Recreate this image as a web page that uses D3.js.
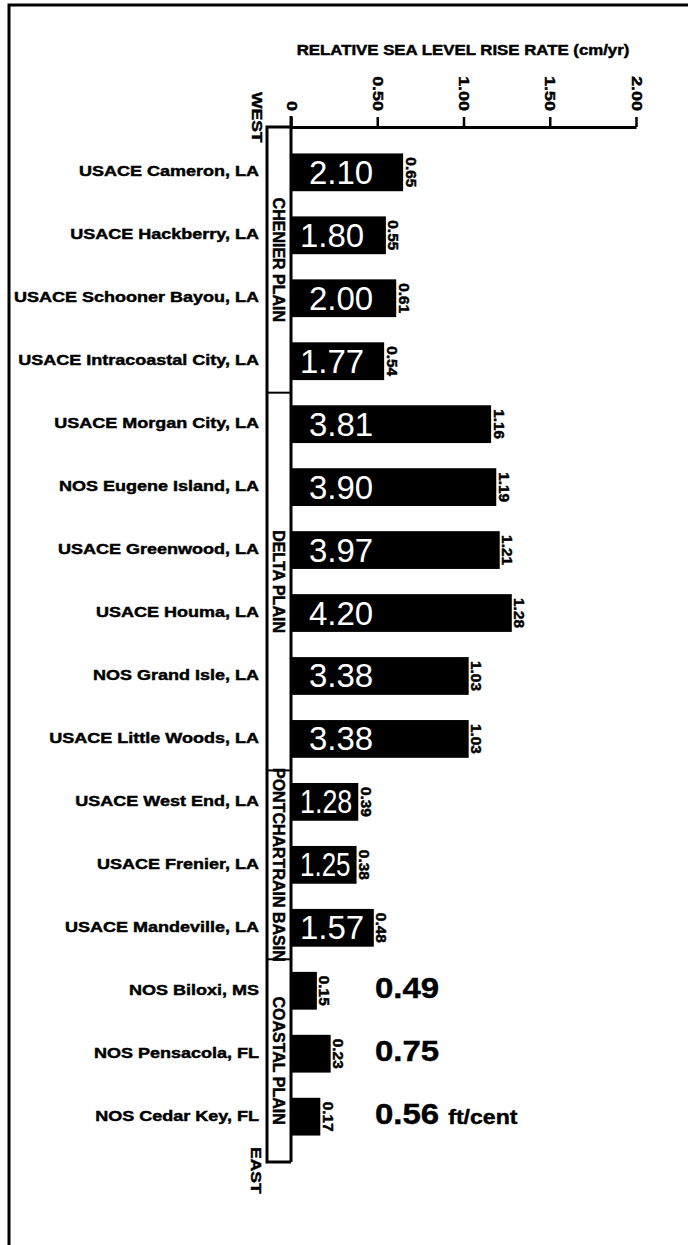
<!DOCTYPE html>
<html>
<head>
<meta charset="utf-8">
<script src="https://cdn.jsdelivr.net/npm/d3@7"></script>
<style>
  html, body { margin: 0; padding: 0; background: #fff; }
  svg { display: block; }
  text { font-family: "Liberation Sans", Arial, Helvetica, sans-serif; }
  .heavy { stroke: #000; stroke-width: 0.45px; }
</style>
</head>
<body>
<svg id="chart" width="688" height="1245"></svg>
<script>
// Tide-gauge stations, listed west to east
const stations = [
  "USACE Cameron, LA",
  "USACE Hackberry, LA",
  "USACE Schooner Bayou, LA",
  "USACE Intracoastal City, LA",
  "USACE Morgan City, LA",
  "NOS Eugene Island, LA",
  "USACE Greenwood, LA",
  "USACE Houma, LA",
  "NOS Grand Isle, LA",
  "USACE Little Woods, LA",
  "USACE West End, LA",
  "USACE Frenier, LA",
  "USACE Mandeville, LA",
  "NOS Biloxi, MS",
  "NOS Pensacola, FL",
  "NOS Cedar Key, FL"
];
// Relative sea level rise rate, cm/yr (bar length)
const rateCmPerYear = [0.65, 0.55, 0.61, 0.54, 1.16, 1.19, 1.21, 1.28, 1.03, 1.03, 0.39, 0.38, 0.48, 0.15, 0.23, 0.17];
// Same rate expressed in ft/century
const rateFtPerCentury = ["2.10", "1.80", "2.00", "1.77", "3.81", "3.90", "3.97", "4.20", "3.38", "3.38", "1.28", "1.25", "1.57", "0.49", "0.75", "0.56"];
const rateCmLabels = ["0.65", "0.55", "0.61", "0.54", "1.16", "1.19", "1.21", "1.28", "1.03", "1.03", "0.39", "0.38", "0.48", "0.15", "0.23", "0.17"];

// Physiographic regions and the station rows they span
const regionNames = ["CHENIER PLAIN", "DELTA PLAIN", "PONTCHARTRAIN BASIN", "COASTAL PLAIN"];
const regionFirstRow = [0, 4, 10, 13];
const regionLastRow = [3, 9, 12, 15];

const tickValues = [0, 0.5, 1.0, 1.5, 2.0];
const tickLabels = ["0", "0.50", "1.00", "1.50", "2.00"];
const axisTitle = "RELATIVE SEA LEVEL RISE RATE (cm/yr)";
const unitLabel = "ft/cent";
const westLabel = "WEST";
const eastLabel = "EAST";

// ---- layout ----
const W = 688, H = 1245;
const plotTop = 127, plotBottom = 1162;
const boxLeft = 267;

const svg = d3.select("#chart");
svg.append("rect").attr("width", W).attr("height", H).attr("fill", "#fff");

const x = d3.scaleLinear().domain([0, 2]).range([291, 636]);
const y = d3.scaleBand()
  .domain(d3.range(stations.length))
  .range([plotTop, plotBottom])
  .paddingInner(0.4)
  .paddingOuter(0.42);
const bw = y.bandwidth();
const mid = i => y(i) + bw / 2;

// widen glyphs to the heavy, broad lettering of the figure
function stretch(sel, k) {
  sel.each(function () {
    const L = this.getComputedTextLength();
    d3.select(this).attr("textLength", L * k).attr("lengthAdjust", "spacingAndGlyphs");
  });
}

// page frame (left and top rules)
svg.append("path")
  .attr("d", `M9,${H}V5H${W}`)
  .attr("fill", "none").attr("stroke", "#000").attr("stroke-width", 3);

// axis title
const title = svg.append("text")
  .attr("class", "heavy")
  .attr("x", 463).attr("y", 55)
  .attr("text-anchor", "middle")
  .attr("font-size", 14).attr("font-weight", "bold")
  .text(axisTitle);
stretch(title, 1.2);

// top axis
const axis = svg.append("g")
  .attr("transform", `translate(0,${plotTop})`)
  .call(d3.axisTop(x).tickValues(tickValues)
    .tickFormat((d, i) => tickLabels[i])
    .tickSize(10).tickSizeOuter(0).tickPadding(0));
axis.select(".domain").attr("stroke-width", 3);
axis.selectAll(".tick line").attr("stroke-width", 2.5);
axis.selectAll(".tick text")
  .attr("class", "heavy")
  .attr("transform", "rotate(90)")
  .attr("x", -16).attr("y", 0).attr("dy", "0.35em")
  .attr("text-anchor", "end")
  .attr("font-size", 14).attr("font-weight", "bold")
  .attr("font-family", "Liberation Sans, Arial, sans-serif")
  .attr("fill", "#000");
stretch(axis.selectAll(".tick text"), 1.28);

// bars
svg.append("g").selectAll("rect")
  .data(rateCmPerYear)
  .join("rect")
  .attr("x", x(0))
  .attr("y", (d, i) => y(i))
  .attr("width", d => x(d) - x(0))
  .attr("height", bw)
  .attr("fill", "#000");

// region box: outer rule, top, bottom, zero line
svg.append("path")
  .attr("d", `M${x(0)},${plotTop}H${boxLeft}V${plotBottom}H${x(0)}`)
  .attr("fill", "none").attr("stroke", "#000").attr("stroke-width", 3);
svg.append("line")
  .attr("x1", x(0)).attr("x2", x(0))
  .attr("y1", plotTop - 11).attr("y2", plotBottom)
  .attr("stroke", "#000").attr("stroke-width", 3);

// region dividers
const step = y.step();
const dividers = regionFirstRow.slice(1).map(r => y(r) - step * y.paddingInner() / 2);
svg.append("g").selectAll("line")
  .data(dividers)
  .join("line")
  .attr("x1", boxLeft).attr("x2", x(0))
  .attr("y1", d => d).attr("y2", d => d)
  .attr("stroke", "#000").attr("stroke-width", 2);

// region names inside the box
const bounds = [plotTop, ...dividers, plotBottom];
svg.append("g").selectAll("text")
  .data(regionNames)
  .join("text")
  .attr("class", "heavy")
  .attr("transform", (d, i) => `translate(${(boxLeft + x(0)) / 2},${(bounds[i] + bounds[i + 1]) / 2}) rotate(90)`)
  .attr("text-anchor", "middle")
  .attr("dy", "0.35em")
  .attr("font-size", 16).attr("font-weight", "bold")
  .text(d => d);

// WEST / EAST markers
const west = svg.append("text")
  .attr("class", "heavy")
  .attr("transform", `translate(257,92) rotate(90)`)
  .attr("dy", "0.35em")
  .attr("font-size", 14).attr("font-weight", "bold")
  .text(westLabel);
const east = svg.append("text")
  .attr("class", "heavy")
  .attr("transform", `translate(256,1147) rotate(90)`)
  .attr("dy", "0.35em")
  .attr("font-size", 14).attr("font-weight", "bold")
  .text(eastLabel);
stretch(west, 1.25);
stretch(east, 1.25);

// station names
const names = svg.append("g").selectAll("text")
  .data(stations)
  .join("text")
  .attr("class", "heavy")
  .attr("x", 259)
  .attr("y", (d, i) => mid(i) + 4)
  .attr("text-anchor", "end")
  .attr("font-size", 15).attr("font-weight", "bold")
  .text(d => d);
stretch(names, 1.2);

// cm/yr values at bar ends, rotated
const cmLabels = svg.append("g").selectAll("text")
  .data(rateCmPerYear)
  .join("text")
  .attr("class", "heavy")
  .attr("transform", (d, i) => `translate(${x(d) + 7.5},${mid(i)}) rotate(90)`)
  .attr("text-anchor", "middle")
  .attr("dy", "0.35em")
  .attr("font-size", 14).attr("font-weight", "bold")
  .text((d, i) => rateCmLabels[i]);
stretch(cmLabels, 1.1);

// ft/century values: inside wide bars, beside narrow ones
const outsideX = x(0) + 84;
rateCmPerYear.forEach((v, i) => {
  const barW = x(v) - x(0);
  if (barW >= 60) {
    const offset = barW > 100 ? 18 : 9;
    const t = svg.append("text")
      .attr("x", x(0) + offset)
      .attr("y", mid(i) + 11.5)
      .attr("fill", "#fff")
      .attr("font-size", 33)
      .text(rateFtPerCentury[i]);
    const L = t.node().getComputedTextLength();
    const maxL = barW - offset - 6;
    if (L > maxL) t.attr("textLength", maxL).attr("lengthAdjust", "spacingAndGlyphs");
  } else {
    const t = svg.append("text")
      .attr("class", "heavy")
      .attr("x", outsideX)
      .attr("y", mid(i) + 7)
      .attr("fill", "#000")
      .attr("font-size", 30).attr("font-weight", "bold")
      .text(rateFtPerCentury[i]);
    const L = t.node().getComputedTextLength() * 1.1;
    t.attr("textLength", L).attr("lengthAdjust", "spacingAndGlyphs");
    if (i === stations.length - 1) {
      const u = svg.append("text")
        .attr("class", "heavy")
        .attr("x", outsideX + L + 9)
        .attr("y", mid(i) + 7)
        .attr("font-size", 21).attr("font-weight", "bold")
        .text(unitLabel);
      stretch(u, 1.1);
    }
  }
});
</script>
</body>
</html>
